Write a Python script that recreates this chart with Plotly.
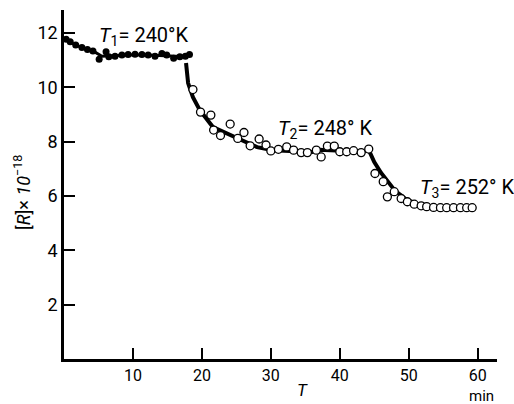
import plotly.graph_objects as go

# ---- data ----
filled_t = [0.3, 0.9, 1.7, 2.6, 3.4, 4.2, 5.1, 6.1, 6.5, 7.4, 8.4, 9.3, 10.3,
            11.3, 12.2, 13.2, 14.2, 14.9, 15.9, 16.8, 17.6, 18.2]
filled_R = [11.77, 11.68, 11.56, 11.47, 11.40, 11.34, 11.04, 11.31, 11.13, 11.15,
            11.19, 11.21, 11.22, 11.21, 11.19, 11.15, 11.25, 11.19, 11.07, 11.13,
            11.15, 11.21]

open_t = [18.7, 19.8, 21.3, 21.7, 22.7, 24.1, 25.2, 26.1, 27.0, 28.3, 29.3, 30.0,
          31.1, 32.3, 33.3, 34.4, 35.3, 36.6, 37.3, 38.2, 39.2, 40.0, 41.0, 42.0,
          43.1, 44.2, 45.1, 46.3, 46.9, 47.9, 48.9, 49.8, 50.8, 51.8, 52.6, 53.6,
          54.6, 55.5, 56.5, 57.5, 58.4, 59.2]
open_R = [9.92, 9.09, 8.98, 8.43, 8.23, 8.65, 8.12, 8.34, 7.85, 8.10, 7.88, 7.66,
          7.72, 7.81, 7.69, 7.60, 7.60, 7.69, 7.44, 7.84, 7.84, 7.63, 7.63, 7.67,
          7.60, 7.73, 6.83, 6.53, 5.97, 6.16, 5.91, 5.79, 5.70, 5.64, 5.61, 5.58,
          5.57, 5.57, 5.57, 5.57, 5.57, 5.57]

curve1_t = [0.0, 1.5, 3.0, 4.5, 5.5, 7.0, 10.0, 13.0, 15.5, 17.0, 18.2]
curve1_R = [11.8, 11.58, 11.43, 11.30, 11.15, 11.16, 11.20, 11.18, 11.14, 11.14, 11.20]

curve2_t = [17.7, 18.0, 18.7, 19.7, 21.6, 25.1, 28.0, 30.3, 33.0, 36.0, 37.0,
            38.0, 39.5, 41.0, 43.3, 44.2, 45.0, 46.0, 47.0, 48.0, 49.5, 51.0, 53.0]
curve2_R = [10.9, 10.16, 9.64, 9.16, 8.54, 8.13, 7.80, 7.69, 7.66, 7.62, 7.70,
            7.70, 7.68, 7.64, 7.62, 7.70, 7.25, 6.85, 6.50, 6.20, 5.90, 5.72, 5.62]

x_ticks = [10, 20, 30, 40, 50, 60]
y_ticks = [2, 4, 6, 8, 10, 12]

FONT = "Roboto, Liberation Sans, sans-serif"

fig = go.Figure()
fig.add_trace(go.Scatter(x=curve1_t, y=curve1_R, mode="lines",
                         line=dict(color="black", width=3), hoverinfo="skip"))
fig.add_trace(go.Scatter(x=curve2_t, y=curve2_R, mode="lines",
                         line=dict(color="black", width=4), hoverinfo="skip"))
fig.add_trace(go.Scatter(x=filled_t, y=filled_R, mode="markers",
                         marker=dict(color="black", size=7, line=dict(width=0))))
fig.add_trace(go.Scatter(x=open_t, y=open_R, mode="markers",
                         marker=dict(color="white", size=8,
                                     line=dict(color="black", width=1.3))))

W, H = 514, 404
L, R, T, B = 64, 17, 10, 45
pw, ph = W - L - R, H - T - B


def px(xp):
    return (xp - L) / pw


def py(yp):
    return (H - B - yp) / ph


annos = [
    dict(x=px(144), y=py(36), text="<i>T</i><sub>1</sub>= 240°K", size=20, ya="middle"),
    dict(x=px(325), y=py(129), text="<i>T</i><sub>2</sub>= 248° K", size=20, ya="middle"),
    dict(x=px(467), y=py(188), text="<i>T</i><sub>3</sub>= 252° K", size=20, ya="middle"),
    dict(x=px(302), y=py(390), text="<i>T</i>", size=17, ya="middle"),
    dict(x=px(481), y=py(406), text="min", size=15, ya="bottom"),
]
layout_annos = []
for a in annos:
    layout_annos.append(dict(xref="paper", yref="paper", x=a["x"], y=a["y"],
                             text=a["text"], showarrow=False, borderpad=0,
                             xanchor="center", yanchor=a["ya"],
                             font=dict(family=FONT, size=a["size"], color="black")))
layout_annos.append(dict(xref="paper", yref="paper", x=px(22), y=py(193),
                         text="[<i>R</i>]× <i>10</i><sup>−18</sup>", showarrow=False,
                         textangle=-90, xanchor="center", yanchor="middle",
                         font=dict(family=FONT, size=18, color="black")))

fig.update_layout(
    width=W, height=H,
    margin=dict(l=L, r=R, t=T, b=B, pad=0),
    paper_bgcolor="white", plot_bgcolor="white",
    showlegend=False,
    font=dict(family=FONT, size=18, color="black"),
    annotations=layout_annos,
    xaxis=dict(range=[0, 62.8], tickvals=x_ticks, ticktext=[str(v) for v in x_ticks],
               ticks="inside", ticklen=11, tickwidth=1.5, tickcolor="black",
               showline=True, linecolor="black", linewidth=2.5,
               showgrid=False, zeroline=False, fixedrange=True,
               tickfont=dict(family=FONT, size=16, color="black")),
    yaxis=dict(range=[0, 12.85], tickvals=y_ticks, ticktext=[str(v) for v in y_ticks],
               ticks="inside", ticklen=11, tickwidth=1.5, tickcolor="black",
               showline=True, linecolor="black", linewidth=2.5,
               showgrid=False, zeroline=False, fixedrange=True,
               tickfont=dict(family=FONT, size=18, color="black")),
)

fig.write_html("out.html")
